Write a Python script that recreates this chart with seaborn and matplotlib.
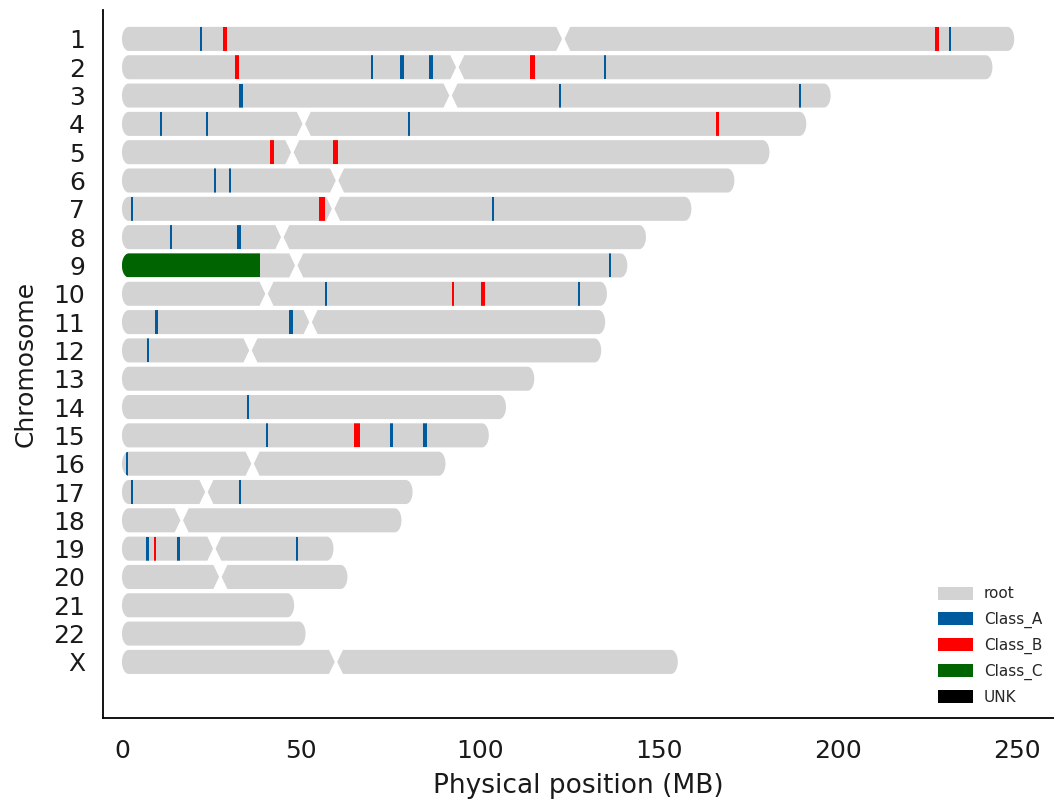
import numpy as np
import matplotlib
matplotlib.use('Agg')
import matplotlib.pyplot as plt
from matplotlib.patches import Polygon, Rectangle, Patch
import seaborn as sns

sns.set_style('white')
plt.rcParams['font.family'] = ['DejaVu Sans']

# chromosomes, lengths and centromere positions (MB)
chrom_names = ['1', '2', '3', '4', '5', '6', '7', '8', '9', '10', '11', '12',
               '13', '14', '15', '16', '17', '18', '19', '20', '21', '22', 'X']
chrom_len = [249.3, 243.2, 198.0, 191.2, 180.9, 171.1, 159.1, 146.4, 141.2, 135.5,
             135.0, 133.9, 115.2, 107.3, 102.5, 90.4, 81.2, 78.1, 59.1, 63.0,
             48.1, 51.3, 155.3]
centromere = [123.3, 93.7, 91.8, 50.8, 47.6, 60.1, 59.0, 44.8, 48.7, 40.4,
              52.7, 35.9, None, None, None, 36.5, 23.6, 16.7, 25.8, 27.5,
              None, None, 59.8]

# tagged segments
band_chrom = ['1', '1', '1', '1',
              '2', '2', '2', '2', '2', '2',
              '3', '3', '3',
              '4', '4', '4', '4',
              '5', '5',
              '6', '6',
              '7', '7', '7',
              '8', '8',
              '9', '9',
              '10', '10', '10', '10',
              '11', '11',
              '12',
              '14',
              '15', '15', '15', '15',
              '16',
              '17', '17',
              '19', '19', '19', '19']
band_start = [21.9, 28.2, 227.2, 231.0,
              31.5, 69.6, 77.8, 85.7, 114.1, 134.6,
              32.6, 122.2, 189.1,
              10.6, 23.5, 79.9, 166.1,
              41.3, 58.9,
              25.7, 29.9,
              2.6, 55.1, 103.4,
              13.3, 32.1,
              0.0, 136.1,
              56.7, 92.1, 100.3, 127.5,
              9.1, 46.7,
              6.9,
              34.8,
              40.2, 64.8, 75.0, 84.0,
              1.0,
              2.6, 32.6,
              6.8, 9.0, 15.5, 48.7]
band_end = [22.5, 29.4, 228.4, 231.6,
            32.7, 70.2, 78.9, 86.8, 115.3, 135.2,
            33.8, 122.8, 189.7,
            11.2, 24.1, 80.5, 166.7,
            42.4, 60.4,
            26.3, 30.5,
            3.2, 56.6, 104.0,
            13.9, 33.2,
            38.6, 136.7,
            57.3, 92.7, 101.4, 128.1,
            10.2, 47.8,
            7.5,
            35.4,
            40.8, 66.4, 75.6, 85.2,
            1.6,
            3.2, 33.2,
            7.6, 9.6, 16.1, 49.3]
band_class = ['Class_A', 'Class_B', 'Class_B', 'Class_A',
              'Class_B', 'Class_A', 'Class_A', 'Class_A', 'Class_B', 'Class_A',
              'Class_A', 'Class_A', 'Class_A',
              'Class_A', 'Class_A', 'Class_A', 'Class_B',
              'Class_B', 'Class_B',
              'Class_A', 'Class_A',
              'Class_A', 'Class_B', 'Class_A',
              'Class_A', 'Class_A',
              'Class_C', 'Class_A',
              'Class_A', 'Class_B', 'Class_B', 'Class_A',
              'Class_A', 'Class_A',
              'Class_A',
              'Class_A',
              'Class_A', 'Class_B', 'Class_A', 'Class_A',
              'Class_A',
              'Class_A', 'Class_A',
              'Class_A', 'Class_B', 'Class_A', 'Class_A']

legend_labels = ['root', 'Class_A', 'Class_B', 'Class_C', 'UNK']
class_colors = dict(zip(legend_labels,
                        ['#d3d3d3', '#005b9e', '#ff0000', '#006400', '#000000']))

HEIGHT = 0.85   # bar height in rows
TEL = 1.9       # telomere rounding (MB)
CEN = 1.6       # centromere taper (MB)
GAP = 0.35      # half gap at the centromere (MB)


def arm_outline(start, end, y, left, right):
    h = HEIGHT / 2
    pts = []
    # left end
    if left == 'tel':
        t = np.linspace(np.pi / 2, 3 * np.pi / 2, 25)
        pts += [(start + TEL + TEL * np.cos(a), y - h * np.sin(a)) for a in t]
    else:
        pts += [(start + CEN, y - h), (start, y), (start + CEN, y + h)]
    # right end
    if right == 'tel':
        t = np.linspace(-np.pi / 2, np.pi / 2, 25)
        pts += [(end - TEL + TEL * np.cos(a), y - h * np.sin(a)) for a in t]
    else:
        pts += [(end - CEN, y + h), (end, y), (end - CEN, y - h)]
    return pts


fig = plt.figure(figsize=(10.54, 8.08), dpi=100)
ax = fig.add_axes([0.0977, 0.1114, 0.9023, 0.8762])

arms = {}
for i, (name, length, cen) in enumerate(zip(chrom_names, chrom_len, centromere)):
    if cen is None:
        parts = [(0, length, 'tel', 'tel')]
    else:
        parts = [(0, cen - GAP, 'tel', 'cen'), (cen + GAP, length, 'cen', 'tel')]
    arms[name] = []
    for s, e, l, r in parts:
        poly = Polygon(arm_outline(s, e, i, l, r), closed=True,
                       facecolor=class_colors['root'], edgecolor='none', lw=0)
        ax.add_patch(poly)
        arms[name].append((s, e, poly))

for name, s, e, cls in zip(band_chrom, band_start, band_end, band_class):
    i = chrom_names.index(name)
    mid = (s + e) / 2
    clip = [p for a, b, p in arms[name] if a <= mid <= b][0]
    rect = Rectangle((s, i - HEIGHT / 2), e - s, HEIGHT,
                     facecolor=class_colors[cls], edgecolor='none', lw=0)
    ax.add_patch(rect)
    rect.set_clip_path(clip)

ax.set_xlim(-5.3, 260.4)
ax.set_ylim(23.98, -1.02)
ax.set_yticks(range(len(chrom_names)))
ax.set_yticklabels(chrom_names)
ax.set_xticks([0, 50, 100, 150, 200, 250])
ax.tick_params(axis='both', length=0, labelsize=18, colors='#1a1a1a')
ax.tick_params(axis='y', pad=13)
ax.tick_params(axis='x', pad=15)
ax.set_xlabel('Physical position (MB)', fontsize=19, color='#1a1a1a', labelpad=7)
ax.set_ylabel('Chromosome', fontsize=18, color='#1a1a1a', labelpad=11)
sns.despine(ax=ax)
for side in ['left', 'bottom']:
    ax.spines[side].set_color('black')
    ax.spines[side].set_linewidth(1.3)

handles = [Patch(facecolor=class_colors[c], edgecolor='none') for c in legend_labels]
ax.legend(handles, legend_labels, loc='lower right', bbox_to_anchor=(0.994, 0.01),
          borderaxespad=0, frameon=False, fontsize=11, handlelength=2.3,
          handleheight=0.95, handletextpad=0.7, labelspacing=0.65)

fig.savefig('out.png', dpi=100)
